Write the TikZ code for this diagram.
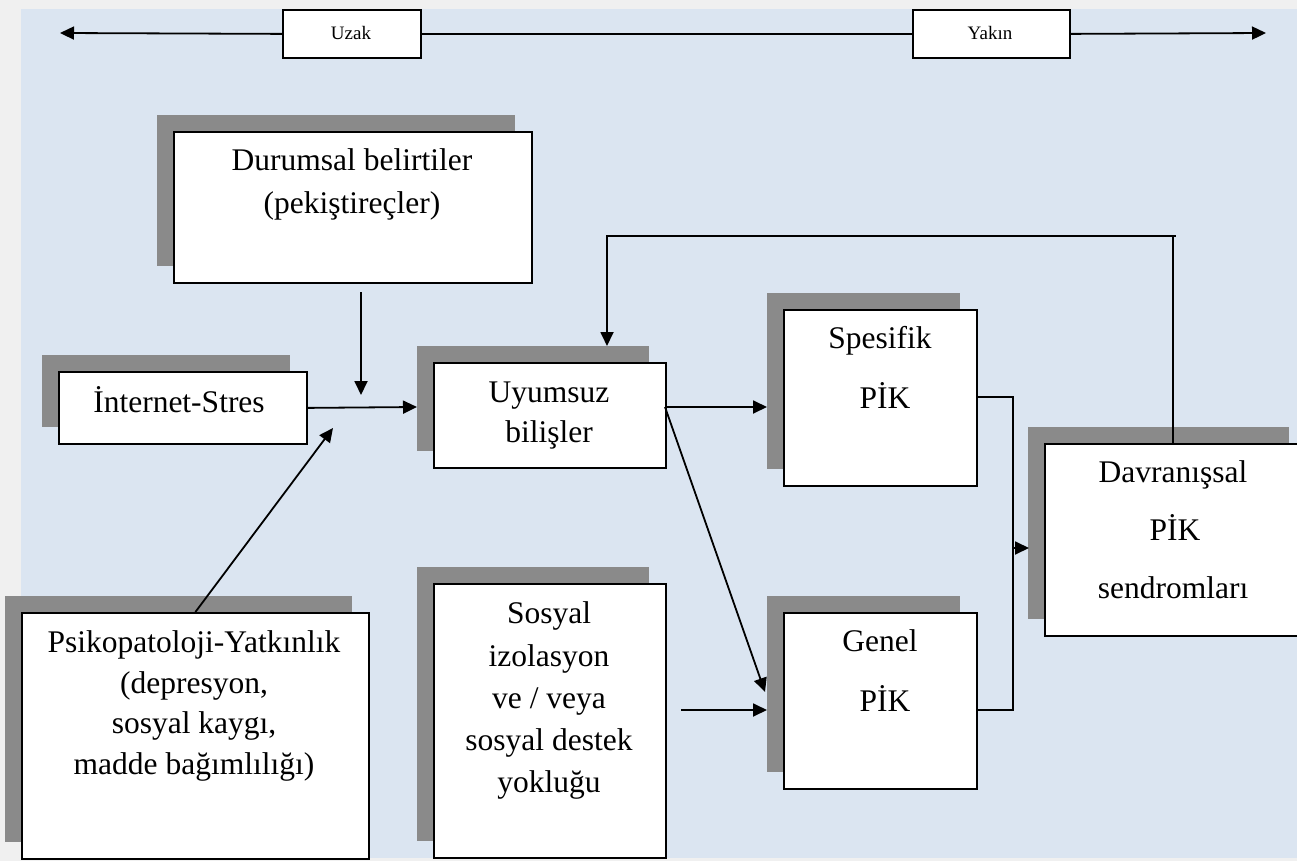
\documentclass[tikz,border=0pt]{standalone}
\usepackage{fontspec}
\setmainfont{Liberation Serif}
\usetikzlibrary{arrows.meta}
\definecolor{bgblue}{HTML}{DBE5F1}
\definecolor{outer}{HTML}{F0F0F0}
\definecolor{shadowgray}{HTML}{8A8A8A}
\tikzset{
  boxnode/.style={draw=black, line width=1.8pt, fill=white, inner sep=0pt},
  shd/.style={fill=shadowgray},
  lbl/.style={inner sep=0pt, anchor=base, font=\fontsize{31.5}{38}\selectfont},
  small/.style={inner sep=0pt, anchor=base, font=\fontsize{19}{23}\selectfont},
  conn/.style={line width=1.8pt},
  arr/.style={line width=1.8pt, -{Triangle[length=14pt,width=13pt]}}
}
\newcommand\shbox[5]{%
  \fill[shd] ({#2-16},{#3-16}) rectangle ({#4-16},{#5-16});
  \node[boxnode, anchor=north west, minimum width={(#4-#2)*1pt}, minimum height={(#5-#3)*1pt}] (#1) at (#2,#3) {};}
\newcommand\plainbox[5]{%
  \node[boxnode, anchor=north west, minimum width={(#4-#2)*1pt}, minimum height={(#5-#3)*1pt}] (#1) at (#2,#3) {};}
\newcommand\txt[4]{\node[lbl] (#1) at (#2,#3) {#4};}
\begin{document}
\begin{tikzpicture}[x=1pt,y=-1pt]
\useasboundingbox (0,0) rectangle (1297,861);
\fill[outer] (0,0) rectangle (1297,861);
\fill[bgblue] (21,9) rectangle (1297,858);

% top scale
\plainbox{uzak}{282}{9}{420}{57}
\plainbox{yakin}{912}{9}{1069}{57}
\node[small] (uzakt) at (351,40) {Uzak};
\node[small] (yakint) at (990,40) {Yakın};
\coordinate (lend) at (60,33);
\coordinate (rend) at (1266,33);
\draw[arr] (uzak.west) -- (lend);
\draw[conn] (uzak.east) -- (yakin.west);
\draw[arr] (yakin.east) -- (rend);

% boxes
\shbox{dur}{173}{131}{531}{282}
\shbox{ist}{58}{371}{306}{443}
\shbox{uyu}{433}{362}{665}{467}
\shbox{psi}{21}{612}{368}{858}
\shbox{sos}{433}{583}{665}{857}
\shbox{spe}{783}{309}{976}{485}
\shbox{gen}{783}{612}{976}{788}
\shbox{dav}{1044}{443}{1305}{635}

% texts
\txt{t1}{352}{171}{Durumsal belirtiler}
\txt{t2}{352}{213}{(pekiştireçler)}
\txt{t3}{179}{412}{İnternet-Stres}
\txt{t4}{549}{402}{Uyumsuz}
\txt{t5}{549}{442}{bilişler}
\txt{t6}{194}{652}{Psikopatoloji-Yatkınlık}
\txt{t7}{194}{693}{(depresyon,}
\txt{t8}{194}{733}{sosyal kaygı,}
\txt{t9}{194}{774}{madde bağımlılığı)}
\txt{t10}{549}{623}{Sosyal}
\txt{t11}{549}{666}{izolasyon}
\txt{t12}{549}{708}{ve / veya}
\txt{t13}{549}{750}{sosyal destek}
\txt{t14}{549}{792}{yokluğu}
\txt{t15}{880}{348}{Spesifik}
\txt{t16}{885}{408}{PİK}
\txt{t17}{880}{651}{Genel}
\txt{t18}{885}{711}{PİK}
\txt{t19}{1173}{482}{Davranışsal}
\txt{t20}{1175}{540}{PİK}
\txt{t21}{1173}{598}{sendromları}

% connectors
\coordinate (jn) at (417,407);
\draw[arr] (ist.east) -- (jn);
\coordinate (d1) at (361,292);
\coordinate (d2) at (361,395);
\draw[arr] (d1) -- (d2);
\coordinate (p2) at (333,428);
\draw[arr] (psi.north) -- (p2);

\coordinate (u1) at (665,407);
\coordinate (s1) at (767,407);
\draw[arr] (u1) -- (s1);
\coordinate (g1) at (765,692);
\draw[arr] (u1) -- (g1);

\coordinate (so1) at (681,710);
\coordinate (so2) at (767,710);
\draw[arr] (so1) -- (so2);

\coordinate (sp1) at (976,397);
\coordinate (sp2) at (1013,397);
\coordinate (ge1) at (976,710);
\coordinate (ge2) at (1013,710);
\draw[conn] (sp1) -- (sp2) -- (ge2) -- (ge1);
\coordinate (dv1) at (1013,548);
\coordinate (dv2) at (1029,548);
\draw[arr] (dv1) -- (dv2);

\coordinate (fb1) at (1173,236);
\coordinate (fb2) at (607,236);
\coordinate (fb3) at (607,346);
\draw[conn] (dav.north -| fb1) -- (fb1) -- ++(3,0);
\draw[arr] (fb1) -- (fb2) -- (fb3);
\end{tikzpicture}
\end{document}
